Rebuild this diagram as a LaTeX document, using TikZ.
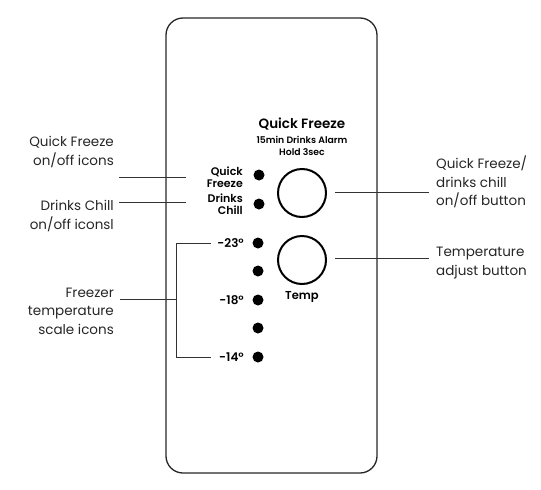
\documentclass[tikz,border=0pt]{standalone}
\usepackage{fontspec}
\setmainfont{Poppins}
\newfontfamily\boldf{Poppins SemiBold}
\begin{document}
\begin{tikzpicture}[x=1pt,y=-1pt,
  panel/.style={draw=black!85,line width=1.3pt,rounded corners=17pt},
  dot/.style={circle,fill=black,inner sep=0pt,minimum size=11pt},
  btn/.style={circle,draw=black,line width=2pt,inner sep=0pt,minimum size=48pt},
  lbl/.style={font=\fontsize{13.5}{18.5}\selectfont,align=right,inner sep=0pt,text=black!85},
  rlbl/.style={font=\fontsize{13.5}{18.5}\selectfont,align=left,inner sep=0pt,anchor=west,text=black!85},
  small/.style={font=\boldf\fontsize{11}{12.5}\selectfont,align=right,inner sep=0pt,anchor=east},
  deg/.style={font=\boldf\fontsize{12}{14}\selectfont,inner sep=0pt,anchor=east},
  lead/.style={draw=black!80,line width=0.9pt}]
\useasboundingbox (0,0) rectangle (541,490);
\draw[panel] (166,18) rectangle (377,473);
% title
\node[font=\boldf\fontsize{13.5}{15}\selectfont,inner sep=0pt] (title) at (302,124) {Quick Freeze};
\node[font=\boldf\fontsize{9.3}{12}\selectfont,inner sep=0pt,align=center] (sub) at (302,146) {15min Drinks Alarm\\Hold 3sec};
% icons
\node[dot] (dqf) at (259,175) {};
\node[dot] (ddc) at (259,204) {};
\node[small] (tqf) at (243,177) {Quick\\Freeze};
\node[small] (tdc) at (243,204) {Drinks\\Chill};
\node[btn] (b1) at (302,193) {};
\node[btn] (b2) at (302,260) {};
\node[font=\boldf\fontsize{11.5}{13}\selectfont,inner sep=0pt] (temp) at (302,297) {Temp};
\node[dot] (t1) at (258,243) {};
\node[dot] (t2) at (258,271) {};
\node[dot] (t3) at (258,300) {};
\node[dot] (t4) at (258,328) {};
\node[dot] (t5) at (258,357) {};
\node[deg] (l1) at (244,243) {-23°};
\node[deg] (l3) at (244,300) {-18°};
\node[deg] (l5) at (244,357) {-14°};
% left labels
\node[lbl,anchor=east] (a) at (114,152) {Quick Freeze\\on/off icons};
\node[lbl,anchor=east] (b) at (114,216) {Drinks Chill\\on/off iconsl};
\node[lbl,anchor=east] (c) at (114,311) {Freezer\\temperature\\scale icons};
\node[rlbl] (d) at (436,182) {Quick Freeze/\\drinks chill\\on/off button};
\node[rlbl] (e) at (436,263) {Temperature\\adjust button};
% leaders
\coordinate (a1) at (119,177); \coordinate (a2) at (186,177);
\coordinate (b1s) at (119,202); \coordinate (b2s) at (186,202);
\draw[lead] (a1) -- (a2);
\draw[lead] (b1s) -- (b2s);
\coordinate (c1) at (120,299); \coordinate (c2) at (176,299);
\coordinate (k1) at (176,243); \coordinate (k2) at (211,243);
\coordinate (k3) at (176,357); \coordinate (k4) at (211,357);
\draw[lead] (c1) -- (c2);
\draw[lead] (k2) -- (k1) -- (k3) -- (k4);
\coordinate (d1) at (335,192); \coordinate (d2) at (429,192);
\coordinate (e1) at (335,258); \coordinate (e2) at (429,258);
\draw[lead] (d1) -- (d2);
\draw[lead] (e1) -- (e2);
\end{tikzpicture}
\end{document}
